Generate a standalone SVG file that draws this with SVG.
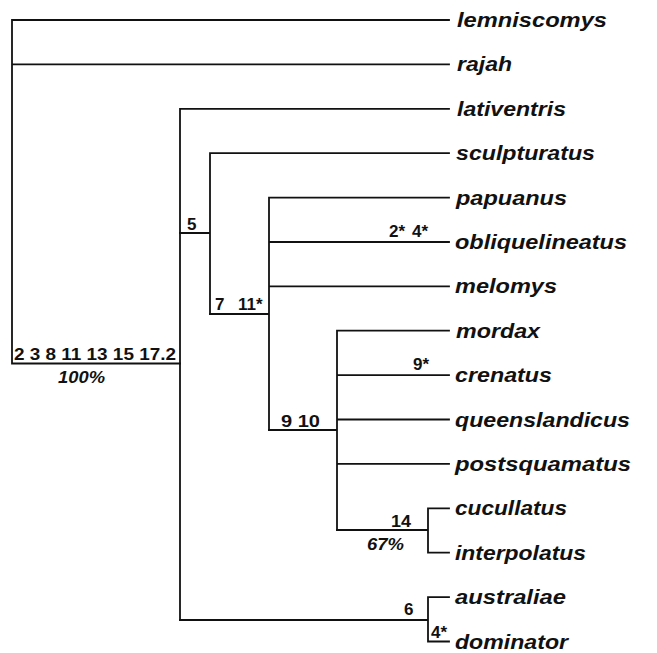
<svg xmlns="http://www.w3.org/2000/svg" width="657" height="653" viewBox="0 0 657 653">
<style>
.br{stroke:#111;stroke-width:1.8;fill:none;stroke-linecap:square}
.sp{font-family:"Liberation Sans",Arial,sans-serif;font-size:20px;font-weight:bold;font-style:italic;fill:#111}
.num{font-family:"Liberation Sans",Arial,sans-serif;font-size:17px;font-weight:bold;fill:#111}
.pct{font-family:"Liberation Sans",Arial,sans-serif;font-size:16px;font-weight:bold;font-style:italic;fill:#111}
</style>
<rect width="657" height="653" fill="#fff"/>
<g id="connectors">
<path class="br" d="M12,20V363.5H180M12,20H449M12,64.4H449"/>
<path class="br" d="M180,108.8V620M180,108.8H449"/>
<path class="br" d="M180,233H210M210,153.2V314M210,153.2H449"/>
<path class="br" d="M210,314H269M269,197.6V430M269,197.6H449M269,242H449M269,286.3H449"/>
<path class="br" d="M269,430H337M337,330.7V530M337,330.7H449M337,375.1H449M337,419.5H449M337,463.9H449"/>
<path class="br" d="M337,530H428M428,508.3V552.7M428,508.3H449M428,552.7H449"/>
<path class="br" d="M180,620H428M428,597.1V641.5M428,597.1H449M428,641.5H449"/>
</g>
<g id="leaf-lemniscomys"><text class="sp" x="457" y="27" textLength="150" lengthAdjust="spacingAndGlyphs">lemniscomys</text></g>
<g id="leaf-rajah"><text class="sp" x="457" y="71.4" textLength="55" lengthAdjust="spacingAndGlyphs">rajah</text></g>
<g id="leaf-lativentris"><text class="sp" x="457" y="115.8" textLength="109" lengthAdjust="spacingAndGlyphs">lativentris</text></g>
<g id="leaf-sculpturatus"><text class="sp" x="456" y="160.2" textLength="139" lengthAdjust="spacingAndGlyphs">sculpturatus</text></g>
<g id="leaf-papuanus"><text class="sp" x="456" y="204.6" textLength="111" lengthAdjust="spacingAndGlyphs">papuanus</text></g>
<g id="leaf-obliquelineatus"><text class="sp" x="455" y="249" textLength="172" lengthAdjust="spacingAndGlyphs">obliquelineatus</text></g>
<g id="leaf-melomys"><text class="sp" x="455" y="293.3" textLength="102" lengthAdjust="spacingAndGlyphs">melomys</text></g>
<g id="leaf-mordax"><text class="sp" x="456" y="337.7" textLength="84" lengthAdjust="spacingAndGlyphs">mordax</text></g>
<g id="leaf-crenatus"><text class="sp" x="455" y="382.1" textLength="97" lengthAdjust="spacingAndGlyphs">crenatus</text></g>
<g id="leaf-queenslandicus"><text class="sp" x="455" y="426.5" textLength="175" lengthAdjust="spacingAndGlyphs">queenslandicus</text></g>
<g id="leaf-postsquamatus"><text class="sp" x="455" y="470.9" textLength="176" lengthAdjust="spacingAndGlyphs">postsquamatus</text></g>
<g id="leaf-cucullatus"><text class="sp" x="455" y="515.3" textLength="112" lengthAdjust="spacingAndGlyphs">cucullatus</text></g>
<g id="leaf-interpolatus"><text class="sp" x="455" y="559.7" textLength="131" lengthAdjust="spacingAndGlyphs">interpolatus</text></g>
<g id="leaf-australiae"><text class="sp" x="455" y="604.1" textLength="111" lengthAdjust="spacingAndGlyphs">australiae</text></g>
<g id="leaf-dominator"><text class="sp" x="455" y="648.5" textLength="113" lengthAdjust="spacingAndGlyphs">dominator</text></g>
<g id="node-root"><text class="num" x="14" y="360" textLength="162" lengthAdjust="spacingAndGlyphs">2 3 8 11 13 15 17.2</text><text class="pct" x="58" y="383" textLength="47" lengthAdjust="spacingAndGlyphs">100%</text></g>
<g id="node-5"><text class="num" x="187" y="230">5</text></g>
<g id="node-7-11"><text class="num" y="310"><tspan x="215">7</tspan><tspan x="238">11*</tspan></text></g>
<g id="node-obliquelineatus"><text class="num" y="237"><tspan x="389">2*</tspan><tspan x="412">4*</tspan></text></g>
<g id="node-crenatus"><text class="num" x="413" y="370">9*</text></g>
<g id="node-9-10"><text class="num" x="281" y="427" textLength="39" lengthAdjust="spacingAndGlyphs">9 10</text></g>
<g id="node-14"><text class="num" x="391" y="527" textLength="20" lengthAdjust="spacingAndGlyphs">14</text><text class="pct" x="367" y="550" textLength="37" lengthAdjust="spacingAndGlyphs">67%</text></g>
<g id="node-6"><text class="num" x="404" y="615">6</text></g>
<g id="node-dominator"><text class="num" x="431" y="638">4*</text></g>
</svg>
